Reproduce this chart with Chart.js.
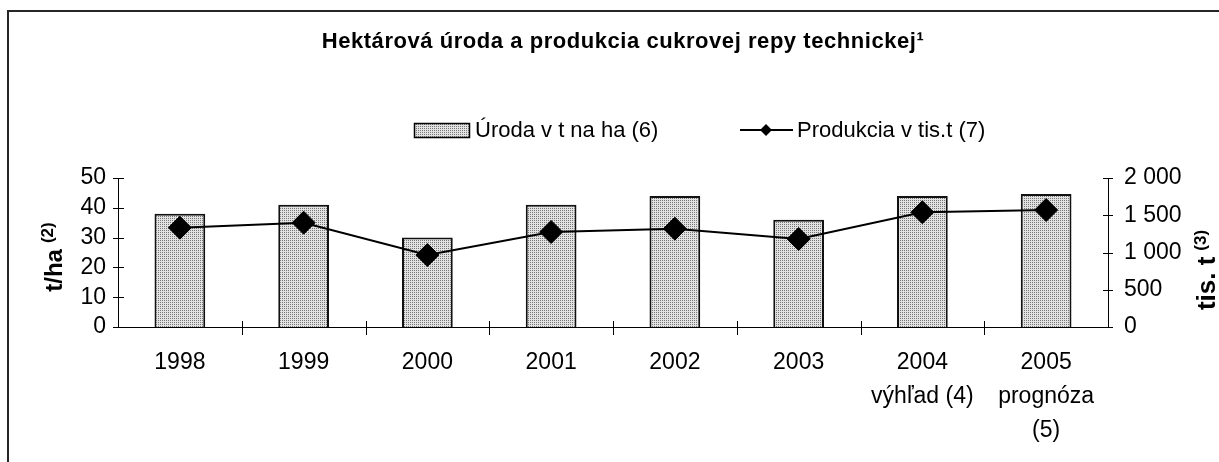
<!DOCTYPE html>
<html>
<head>
<meta charset="utf-8">
<script src="https://cdn.jsdelivr.net/npm/chart.js@4.4.1/dist/chart.umd.min.js"></script>
<style>
  html, body { margin: 0; padding: 0; background: #fff; overflow: hidden; }
  #wrap { position: relative; width: 1219px; height: 462px; }
  #frame { position: absolute; left: 7px; top: 10px; right: -5px; bottom: -5px;
           border-top: 2px solid #262626; border-left: 2px solid #262626; pointer-events: none; }
  canvas { display: block; }
</style>
</head>
<body>
<div id="wrap">
  <canvas id="chart" width="1219" height="462"></canvas>
  <div id="frame"></div>
</div>
<script>
// ---- data ----
const years = [["1998"], ["1999"], ["2000"], ["2001"], ["2002"], ["2003"],
               ["2004", "výhľad (4)"], ["2005", "prognóza", "(5)"]];
const yieldPerHa = [38, 41, 30, 41, 44, 36, 44, 44.6];          // t/ha
const production = [1333, 1400, 966, 1275, 1320, 1181, 1540, 1570]; // tis. t
const leftTicks = [0, 10, 20, 30, 40, 50];
const rightTicks = [0, 500, 1000, 1500, 2000];

const FONT = '"Liberation Sans", Arial, sans-serif';

// fine grey stipple like the original bars
function stipple(ctx) {
  const c = document.createElement("canvas");
  c.width = 2; c.height = 2;
  const g = c.getContext("2d");
  g.fillStyle = "#e2e2e2"; g.fillRect(0, 0, 2, 2);
  g.fillStyle = "#777777"; g.fillRect(0, 0, 1, 1);
  return ctx.createPattern(c, "repeat");
}

function fmtThousands(v) {
  return v >= 1000 ? Math.floor(v / 1000) + " " + String(v % 1000).padStart(3, "0") : String(v);
}

// rotated axis title with a small raised "(n)"
function sideTitle(ctx, main, sup, size, baseX, cy) {
  ctx.save();
  ctx.fillStyle = "#000";
  ctx.textBaseline = "alphabetic";
  ctx.textAlign = "left";
  ctx.font = "bold " + size + "px " + FONT;
  const wm = ctx.measureText(main).width;
  ctx.font = "bold 17px " + FONT;
  const ws = ctx.measureText(sup).width;
  const gap = 6, total = wm + gap + ws;
  ctx.translate(baseX, cy);
  ctx.rotate(-Math.PI / 2);
  ctx.font = "bold " + size + "px " + FONT;
  ctx.fillText(main, -total / 2, 0);
  ctx.font = "bold 17px " + FONT;
  ctx.fillText(sup, -total / 2 + wm + gap, -9);
  ctx.restore();
}

const decor = {
  id: "decor",
  afterDraw(chart) {
    const ctx = chart.ctx;
    const { x, y, y2 } = chart.scales;
    const ds = chart.data.datasets;
    ctx.save();

    // tick marks crossing the axes
    ctx.strokeStyle = "#000";
    ctx.lineWidth = 1;
    ctx.beginPath();
    leftTicks.forEach(v => {
      const p = Math.round(y.getPixelForValue(v)) + 0.5;
      ctx.moveTo(y.right - 5, p); ctx.lineTo(y.right + 6, p);
    });
    rightTicks.forEach(v => {
      const p = Math.round(y2.getPixelForValue(v)) + 0.5;
      ctx.moveTo(y2.left - 5, p); ctx.lineTo(y2.left + 5, p);
    });
    for (let i = 1; i < years.length; i++) {
      const p = Math.round((x.getPixelForValue(i - 1) + x.getPixelForValue(i)) / 2) + 0.5;
      ctx.moveTo(p, x.top - 6); ctx.lineTo(p, x.top + 8);
    }
    ctx.stroke();

    // chart title
    ctx.fillStyle = "#000";
    ctx.font = "bold 22px " + FONT;
    ctx.letterSpacing = "0.55px";
    ctx.textAlign = "center";
    ctx.textBaseline = "middle";
    ctx.fillText("Hektárová úroda a produkcia cukrovej repy technickej¹", 623, 42);
    ctx.letterSpacing = "0px";

    // legend
    ctx.fillStyle = ds[0].backgroundColor;
    ctx.fillRect(414, 123, 55, 14);
    ctx.strokeStyle = "#000";
    ctx.lineWidth = 1.5;
    ctx.strokeRect(414.5, 123.5, 55, 14);
    ctx.fillStyle = "#000";
    ctx.font = "22px " + FONT;
    ctx.textAlign = "left";
    ctx.fillText(ds[0].label, 475, 131);

    ctx.lineWidth = 2;
    ctx.beginPath();
    ctx.moveTo(740, 130); ctx.lineTo(793, 130);
    ctx.stroke();
    ctx.beginPath();
    ctx.moveTo(760, 130); ctx.lineTo(766, 124); ctx.lineTo(772, 130); ctx.lineTo(766, 136);
    ctx.closePath();
    ctx.fill();
    ctx.fillText(ds[1].label, 797, 131);

    // axis titles
    sideTitle(ctx, "t/ha", "(2)", 24, 62, 257);
    sideTitle(ctx, "tis. t", "(3)", 26, 1215, 270);

    ctx.restore();
  }
};

const canvas = document.getElementById("chart");
const barFill = stipple(canvas.getContext("2d"));

new Chart(canvas, {
  type: "bar",
  data: {
    labels: years,
    datasets: [
      {
        type: "bar",
        label: "Úroda v t na ha (6)",
        data: yieldPerHa,
        yAxisID: "y",
        backgroundColor: barFill,
        borderColor: "#111",
        borderWidth: 2,
        barPercentage: 0.41,
        categoryPercentage: 1,
        order: 2
      },
      {
        type: "line",
        label: "Produkcia v tis.t (7)",
        data: production,
        yAxisID: "y2",
        borderColor: "#000",
        borderWidth: 2,
        tension: 0,
        pointStyle: "rectRot",
        pointRadius: 11.5,
        pointBorderWidth: 1,
        pointBackgroundColor: "#000",
        pointBorderColor: "#000",
        order: 1
      }
    ]
  },
  options: {
    responsive: false,
    devicePixelRatio: 1,
    animation: false,
    layout: { padding: { top: 178, left: 0, right: 0, bottom: 0 } },
    plugins: {
      legend: { display: false },
      title: { display: false },
      tooltip: { enabled: false }
    },
    scales: {
      x: {
        offset: true,
        grid: { display: false, drawTicks: false },
        border: { display: true, color: "#000", width: 1 },
        ticks: {
          color: "#000",
          padding: 19,
          maxRotation: 0,
          autoSkip: false,
          font: { family: FONT, size: 23, lineHeight: 1.478 }
        },
        afterFit: s => { s.height = 135; }
      },
      y: {
        position: "left",
        min: 0,
        max: 50,
        grid: { display: false, drawTicks: false },
        border: { display: true, color: "#000", width: 1 },
        ticks: { color: "#000", padding: 12, autoSkip: false, font: { family: FONT, size: 23 } },
        afterBuildTicks: s => { s.ticks = leftTicks.map(v => ({ value: v })); },
        afterFit: s => { s.width = 118; }
      },
      y2: {
        position: "right",
        min: 0,
        max: 2000,
        grid: { display: false, drawTicks: false },
        border: { display: true, color: "#000", width: 1 },
        ticks: {
          color: "#000",
          padding: 16,
          autoSkip: false,
          font: { family: FONT, size: 23 },
          callback: v => fmtThousands(v)
        },
        afterBuildTicks: s => { s.ticks = rightTicks.map(v => ({ value: v })); },
        afterFit: s => { s.width = 111; }
      }
    }
  },
  plugins: [decor]
});
</script>
</body>
</html>
